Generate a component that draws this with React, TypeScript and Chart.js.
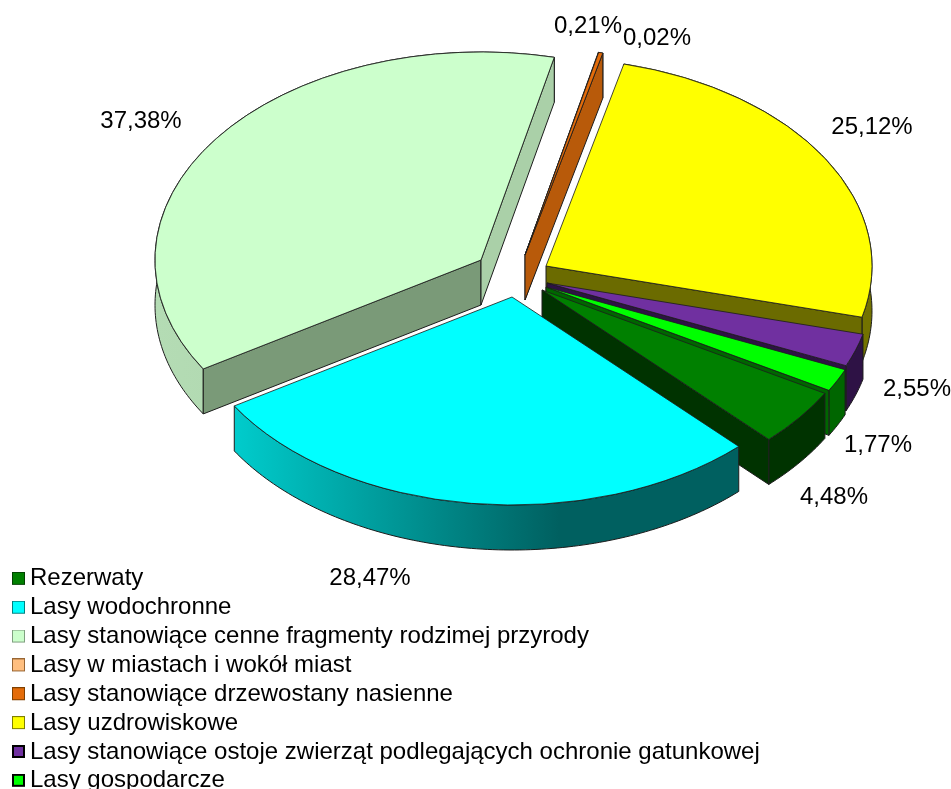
import React, { useEffect, useRef } from "react";
import { Chart, registerables } from "chart.js";

Chart.register(...registerables);

const categories = [
  "Rezerwaty",
  "Lasy wodochronne",
  "Lasy stanowiące cenne fragmenty rodzimej przyrody",
  "Lasy w miastach i wokół miast",
  "Lasy stanowiące drzewostany nasienne",
  "Lasy uzdrowiskowe",
  "Lasy stanowiące ostoje zwierząt podlegających ochronie gatunkowej",
  "Lasy gospodarcze",
];
const shares = [4.48, 28.47, 37.38, 0.02, 0.21, 25.12, 2.55, 1.77];
const shareLabels = ["4,48%", "28,47%", "37,38%", "0,02%", "0,21%", "25,12%", "2,55%", "1,77%"];

// styles
const topColors = ["#008000", "#00FFFF", "#CCFFCC", "#FFBF80", "#E46C0A", "#FFFF00", "#7030A0", "#00FF00"];
const startWallColors = ["#003300", "#666666", "#7A9A78", "#997350", "#B85A0A", "#6B6B00", "#2E1245", "#006600"];
const endWallColors = ["#003300", "#666666", "#AAD0A8", "#997350", "#B85A0A", "#6B6B00", "#2E1245", "#006600"];
const outerWallStops = [
  ["#003300", "#003300"],
  ["#00CCCC", "#006060"],
  ["#B4DCB4", "#A6CCA6"],
  ["#CC9966", "#CC9966"],
  ["#B85A0A", "#B85A0A"],
  ["#737300", "#737300"],
  ["#2E1245", "#2E1245"],
  ["#006600", "#006600"],
];
const legendBorders = ["#004000", "#008080", "#80A080", "#996633", "#804000", "#808000", "#000000", "#000000"];
const legendBorderWidths = [1, 1, 1, 1, 1, 1, 2, 2];
const explodeX = [12, -18, -49, -5, -5, 16, 17, 16];
const explodeY = [15, 22, -15, -20, -20, -9, 8, 12];
const labelX = [834, 370, 141, 657, 588, 872, 917, 878];
const labelY = [497, 578, 121, 38, 26, 127, 389, 445];

const ROTATION = 119.8;
const RADIUS_X = 326;
const RADIUS_Y = 208;
const DEPTH = 45;
const CENTER_X = 530;
const CENTER_Y = 275;
const FONT_FAMILY = "'Liberation Sans', Arial, sans-serif";
const FONT_SIZE = 24;
const LEGEND_LEFT = 5.15;
const LEGEND_TOP = 562;

function swatch(fill: string, stroke: string, lw: number) {
  const c = document.createElement("canvas");
  c.width = 22;
  c.height = 14;
  const g = c.getContext("2d")!;
  g.fillStyle = fill;
  g.fillRect(9, 0, 13, 13);
  g.strokeStyle = stroke;
  g.lineWidth = lw;
  g.strokeRect(9 + lw / 2, lw / 2, 13 - lw, 13 - lw);
  return c;
}

const pie3d = {
  id: "pie3d",
  afterLayout(chart: any) {
    const legend = chart.legend;
    legend.left = LEGEND_LEFT;
    legend.top = LEGEND_TOP;
    legend.bottom = LEGEND_TOP + 400;
  },
  beforeDatasetsDraw(chart: any) {
    const ctx = chart.ctx as CanvasRenderingContext2D;
    const arcs = chart.getDatasetMeta(0).data as any[];
    const order = arcs
      .map((_, i) => i)
      .sort((a, b) => {
        const ma = (arcs[a].startAngle + arcs[a].endAngle) / 2;
        const mb = (arcs[b].startAngle + arcs[b].endAngle) / 2;
        return Math.sin(ma) - Math.sin(mb);
      });
    for (const i of order) {
      const el = arcs[i];
      const cx = CENTER_X + explodeX[i];
      const cy = CENTER_Y + explodeY[i];
      const px = (a: number) => cx + RADIUS_X * Math.cos(a);
      const py = (a: number) => cy + RADIUS_Y * Math.sin(a);
      const a0 = el.startAngle;
      const a1 = el.endAngle;
      ctx.save();
      ctx.lineWidth = 1;
      ctx.strokeStyle = "#1c1c1c";
      ctx.lineJoin = "round";
      const radialWall = (a: number, color: string) => {
        ctx.beginPath();
        ctx.moveTo(cx, cy);
        ctx.lineTo(px(a), py(a));
        ctx.lineTo(px(a), py(a) + DEPTH);
        ctx.lineTo(cx, cy + DEPTH);
        ctx.closePath();
        ctx.fillStyle = color;
        ctx.fill();
        ctx.stroke();
      };
      // outer wall
      const steps = Math.max(8, Math.ceil((a1 - a0) * 60));
      let minX = Infinity;
      let maxX = -Infinity;
      ctx.beginPath();
      for (let s = 0; s <= steps; s++) {
        const a = a0 + ((a1 - a0) * s) / steps;
        minX = Math.min(minX, px(a));
        maxX = Math.max(maxX, px(a));
        if (s === 0) ctx.moveTo(px(a), py(a));
        else ctx.lineTo(px(a), py(a));
      }
      for (let s = steps; s >= 0; s--) {
        const a = a0 + ((a1 - a0) * s) / steps;
        ctx.lineTo(px(a), py(a) + DEPTH);
      }
      ctx.closePath();
      const grad = ctx.createLinearGradient(minX, 0, i === 1 ? minX + 325 : maxX, 0);
      grad.addColorStop(0, outerWallStops[i][0]);
      grad.addColorStop(1, outerWallStops[i][1]);
      ctx.fillStyle = grad;
      ctx.fill();
      ctx.stroke();
      // only the cut faces that turn towards the viewer are drawn
      if (Math.cos(a0) < 0) radialWall(a0, startWallColors[i]);
      if (Math.cos(a1) > 0) radialWall(a1, endWallColors[i]);
      // top face: the library's own arc element, flattened
      ctx.translate(cx, cy);
      ctx.scale(RADIUS_X / el.outerRadius, RADIUS_Y / el.outerRadius);
      ctx.translate(-el.x, -el.y);
      el.draw(ctx);
      ctx.restore();
    }
    return false;
  },
  afterDraw(chart: any) {
    const ctx = chart.ctx as CanvasRenderingContext2D;
    ctx.save();
    ctx.font = `${FONT_SIZE}px ${FONT_FAMILY}`;
    ctx.fillStyle = "#000000";
    ctx.textAlign = "center";
    ctx.textBaseline = "middle";
    shareLabels.forEach((t, i) => ctx.fillText(t, labelX[i], labelY[i]));
    ctx.restore();
  },
};

export default function App() {
  const ref = useRef<HTMLCanvasElement>(null);
  useEffect(() => {
    document.body.style.margin = "0";
    document.body.style.background = "#ffffff";
    const chart = new Chart(ref.current!, {
      type: "pie",
      data: {
        labels: categories,
        datasets: [
          {
            data: shares,
            backgroundColor: topColors,
            borderColor: "#1c1c1c",
            borderWidth: 1,
            borderJoinStyle: "round",
          },
        ],
      },
      options: {
        responsive: false,
        animation: false,
        rotation: ROTATION,
        radius: RADIUS_X,
        plugins: {
          tooltip: { enabled: false },
          title: { display: false },
          legend: {
            display: true,
            position: "chartArea",
            align: "start",
            labels: {
              font: { family: FONT_FAMILY, size: FONT_SIZE },
              color: "#000000",
              usePointStyle: true,
              boxWidth: 8,
              boxHeight: 8,
              padding: 4.85,
              generateLabels: () =>
                categories.map((text, i) => ({
                  text,
                  index: i,
                  hidden: false,
                  lineWidth: 0,
                  fillStyle: topColors[i],
                  strokeStyle: legendBorders[i],
                  pointStyle: swatch(topColors[i], legendBorders[i], legendBorderWidths[i]),
                })),
            },
          },
        },
      } as any,
      plugins: [pie3d],
    });
    return () => chart.destroy();
  }, []);
  return (
    <div style={{ width: 951, height: 789, overflow: "hidden" }}>
      <canvas ref={ref} width={951} height={789} style={{ display: "block" }} />
    </div>
  );
}
